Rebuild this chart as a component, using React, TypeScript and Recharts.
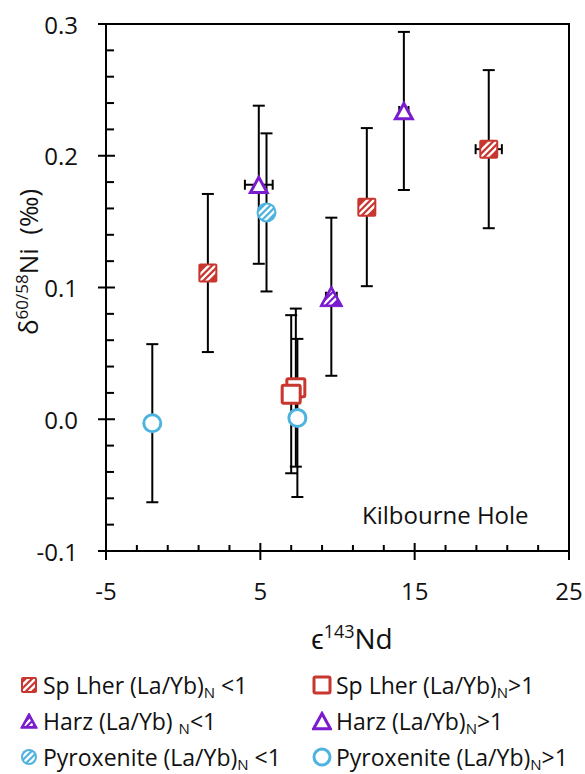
import React from 'react';
import { ScatterChart, Scatter, XAxis, YAxis, ErrorBar, ReferenceArea } from 'recharts';

const RED = '#C8372F';
const PURPLE = '#7A1BCF';
const BLUE = '#4FB3DF';
const FONT = '"Open Sans", sans-serif';
const TICK_COLOR = '#000';

// Sp Lher (La/Yb)N < 1
const spLherLowX = [1.6, 11.9, 19.8];
const spLherLowY = [0.111, 0.161, 0.205];
const spLherLowErrY = [0.06, 0.06, 0.06];
const spLherLowErrX = [0, 0, 0.85];
// Sp Lher (La/Yb)N > 1
const spLherHighX = [7.3, 7.0];
const spLherHighY = [0.024, 0.019];
const spLherHighErrY = [0.06, 0.06];
const spLherHighErrX = [0, 0.6];
// Harz (La/Yb)N < 1
const harzLowX = [9.6];
const harzLowY = [0.093];
const harzLowErrY = [0.06];
const harzLowErrX = [0.35];
// Harz (La/Yb)N > 1
const harzHighX = [4.9, 14.3];
const harzHighY = [0.178, 0.234];
const harzHighErrY = [0.06, 0.06];
const harzHighErrX = [0.9, 0.3];
// Pyroxenite (La/Yb)N < 1
const pyxLowX = [5.4];
const pyxLowY = [0.157];
const pyxLowErrY = [0.06];
const pyxLowErrX = [0];
// Pyroxenite (La/Yb)N > 1
const pyxHighX = [-2.0, 7.4];
const pyxHighY = [-0.003, 0.001];
const pyxHighErrY = [0.06, 0.06];
const pyxHighErrX = [0, 0];

const xTicks = [-5, -3, -1, 1, 3, 5, 7, 9, 11, 13, 15, 17, 19, 21, 23, 25];
const xMajorTicks = [-5, 5, 15, 25];
const yTicks = [-0.1, -0.08, -0.06, -0.04, -0.02, 0, 0.02, 0.04, 0.06, 0.08, 0.1, 0.12, 0.14, 0.16, 0.18, 0.2, 0.22, 0.24, 0.26, 0.28, 0.3];

const rows = (xs: number[], ys: number[], ey: number[], ex: number[]) =>
  xs.map((x, i) => ({ x, y: ys[i], ey: ey[i], ex: ex[i] }));

const spLherLow = rows(spLherLowX, spLherLowY, spLherLowErrY, spLherLowErrX);
const spLherHigh = rows(spLherHighX, spLherHighY, spLherHighErrY, spLherHighErrX);
const harzLow = rows(harzLowX, harzLowY, harzLowErrY, harzLowErrX);
const harzHigh = rows(harzHighX, harzHighY, harzHighErrY, harzHighErrX);
const pyxLow = rows(pyxLowX, pyxLowY, pyxLowErrY, pyxLowErrX);
const pyxHigh = rows(pyxHighX, pyxHighY, pyxHighErrY, pyxHighErrX);

let uid = 0;
const nextId = () => `clip${uid++}`;

function Stripes({ cx, cy, h, clipId }: any) {
  return (
    <g clipPath={`url(#${clipId})`} stroke="#fff" strokeWidth={2.4}>
      {[-6.5, 0, 6.5].map((d) => (
        <line key={d} x1={cx + d - h - 2} y1={cy + h + 2} x2={cx + d + h + 2} y2={cy - h - 2} />
      ))}
    </g>
  );
}

function HatchSquare({ cx, cy, color, s = 19 }: any) {
  const h = s / 2;
  const id = nextId();
  return (
    <g>
      <defs>
        <clipPath id={id}>
          <rect x={cx - h + 2} y={cy - h + 2} width={s - 4} height={s - 4} />
        </clipPath>
      </defs>
      <rect x={cx - h} y={cy - h} width={s} height={s} rx={2} fill={color} />
      <Stripes cx={cx} cy={cy} h={h} clipId={id} />
    </g>
  );
}

function OpenSquare({ cx, cy, color, s = 18 }: any) {
  const h = s / 2;
  return <rect x={cx - h} y={cy - h} width={s} height={s} rx={1.5} fill="#fff" stroke={color} strokeWidth={3} />;
}

function triPts(cx: number, cy: number, h: number) {
  return `${cx},${cy - h} ${cx - h * 1.05},${cy + h * 0.9} ${cx + h * 1.05},${cy + h * 0.9}`;
}

function HatchTriangle({ cx, cy, color, s = 22 }: any) {
  const h = s / 2;
  const id = nextId();
  return (
    <g>
      <defs>
        <clipPath id={id}>
          <polygon points={triPts(cx, cy + 1, h - 3.5)} />
        </clipPath>
      </defs>
      <polygon points={triPts(cx, cy, h)} fill={color} stroke={color} strokeWidth={1} strokeLinejoin="round" />
      <Stripes cx={cx} cy={cy} h={h} clipId={id} />
    </g>
  );
}

function OpenTriangle({ cx, cy, color, s = 16 }: any) {
  const h = s / 2;
  return <polygon points={triPts(cx, cy + 0.5, h)} fill="#fff" stroke={color} strokeWidth={3} />;
}

function HatchCircle({ cx, cy, color, s = 20 }: any) {
  const r = s / 2;
  const id = nextId();
  return (
    <g>
      <defs>
        <clipPath id={id}>
          <circle cx={cx} cy={cy} r={r - 2} />
        </clipPath>
      </defs>
      <circle cx={cx} cy={cy} r={r} fill={color} />
      <Stripes cx={cx} cy={cy} h={r} clipId={id} />
    </g>
  );
}

function OpenCircle({ cx, cy, color, s = 17 }: any) {
  return <circle cx={cx} cy={cy} r={s / 2} fill="#fff" stroke={color} strokeWidth={3} />;
}

const NoShape = () => <g />;

function XTick(props: any) {
  const { x, y, payload } = props;
  const v = payload.value;
  const major = xMajorTicks.some((m) => Math.abs(m - v) < 1e-6);
  return (
    <g>
      <path d={`M${x},${major ? y - 8 : y - 6}L${x},${major ? y + 9 : y}`} stroke={TICK_COLOR} strokeWidth={2} fill="none" />
      {major && (
        <text x={x} y={y + 39} textAnchor="middle" dominantBaseline="central" fontSize={24} fontFamily={FONT} fill="#111">
          {v}
        </text>
      )}
    </g>
  );
}

function YTick(props: any) {
  const { x, y, payload } = props;
  const v = payload.value;
  const major = Math.abs(v * 10 - Math.round(v * 10)) < 1e-6;
  return (
    <g>
      <path d={`M${major ? x - 8 : x},${y}L${major ? x + 9 : x + 8},${y}`} stroke={TICK_COLOR} strokeWidth={2} fill="none" />
      {major && (
        <text x={x - 28} y={y} textAnchor="end" dominantBaseline="central" fontSize={24} fontFamily={FONT} fill="#111">
          {(Math.round(v * 10) / 10).toFixed(1)}
        </text>
      )}
    </g>
  );
}

const errProps = { stroke: '#000', strokeWidth: 2 };

const groups = [
  { data: spLherLow, xErr: true },
  { data: spLherHigh, xErr: true },
  { data: harzLow, xErr: true },
  { data: harzHigh, xErr: true },
  { data: pyxLow, xErr: false },
  { data: pyxHigh, xErr: false },
];

const legendItems = [
  { col: 0, row: 0, Icon: HatchSquare, color: RED, name: 'Sp Lher (La/Yb)', tail: ' <1' },
  { col: 1, row: 0, Icon: OpenSquare, color: RED, name: 'Sp Lher (La/Yb)', tail: '>1' },
  { col: 0, row: 1, Icon: HatchTriangle, color: PURPLE, name: 'Harz (La/Yb) ', tail: '<1' },
  { col: 1, row: 1, Icon: OpenTriangle, color: PURPLE, name: 'Harz (La/Yb)', tail: '>1' },
  { col: 0, row: 2, Icon: HatchCircle, color: BLUE, name: 'Pyroxenite (La/Yb)', tail: ' <1' },
  { col: 1, row: 2, Icon: OpenCircle, color: BLUE, name: 'Pyroxenite (La/Yb)', tail: '>1' },
];

export default function App() {
  uid = 0;
  return (
    <div style={{ position: 'absolute', left: 0, top: 0, width: 585, height: 774, background: '#fff', fontFamily: FONT, overflow: 'hidden' }}>
      <ScatterChart width={585} height={774} margin={{ top: 24, right: 16, bottom: 0, left: 0 }}>
        <XAxis
          type="number"
          dataKey="x"
          domain={[-5, 25]}
          ticks={xTicks}
          interval={0}
          allowDataOverflow
          tick={XTick}
          tickLine={false}
          tickSize={0}
          tickMargin={0}
          height={223}
          axisLine={{ stroke: '#000', strokeWidth: 2 }}
        />
        <YAxis
          type="number"
          dataKey="y"
          domain={[-0.1, 0.3]}
          ticks={yTicks}
          interval={0}
          allowDataOverflow
          tick={YTick}
          tickLine={false}
          tickSize={0}
          tickMargin={0}
          width={106}
          axisLine={{ stroke: '#000', strokeWidth: 2 }}
        />
        <ReferenceArea x1={-5} x2={25} y1={-0.1} y2={0.3} fill="none" stroke="#000" strokeWidth={2} ifOverflow="visible" />
        {groups.map((g, i) => (
          <Scatter key={`err${i}`} data={g.data} shape={NoShape} isAnimationActive={false}>
            <ErrorBar dataKey="ey" direction="y" width={6} {...errProps} />
            {g.xErr && <ErrorBar dataKey="ex" direction="x" width={5} {...errProps} />}
          </Scatter>
        ))}
        <Scatter data={pyxHigh} isAnimationActive={false} shape={(p: any) => <OpenCircle cx={p.cx} cy={p.cy} color={BLUE} />} />
        <Scatter data={pyxLow} isAnimationActive={false} shape={(p: any) => <HatchCircle cx={p.cx} cy={p.cy} color={BLUE} />} />
        <Scatter data={harzHigh} isAnimationActive={false} shape={(p: any) => <OpenTriangle cx={p.cx} cy={p.cy} color={PURPLE} />} />
        <Scatter data={harzLow} isAnimationActive={false} shape={(p: any) => <HatchTriangle cx={p.cx} cy={p.cy} color={PURPLE} />} />
        <Scatter data={spLherHigh} isAnimationActive={false} shape={(p: any) => <OpenSquare cx={p.cx} cy={p.cy} color={RED} />} />
        <Scatter data={spLherLow} isAnimationActive={false} shape={(p: any) => <HatchSquare cx={p.cx} cy={p.cy} color={RED} />} />
      </ScatterChart>

      <div
        style={{
          position: 'absolute', left: 28, top: 262, transform: 'translate(-50%, -50%) rotate(-90deg)',
          whiteSpace: 'nowrap', fontSize: 26, color: '#111', lineHeight: 1,
        }}
      >
        δ<span style={{ fontSize: 17, position: 'relative', top: -10 }}>60/58</span>Ni&nbsp; (‰)
      </div>
      <div
        style={{
          position: 'absolute', left: 352, top: 638, transform: 'translate(-50%, -50%)',
          whiteSpace: 'nowrap', fontSize: 28, color: '#111', lineHeight: 1,
        }}
      >
        ϵ<span style={{ fontSize: 18, position: 'relative', top: -11 }}>143</span>Nd
      </div>
      <div
        style={{
          position: 'absolute', left: 362, top: 515, transform: 'translateY(-50%)',
          whiteSpace: 'nowrap', fontSize: 24, color: '#111', lineHeight: 1,
        }}
      >
        Kilbourne Hole
      </div>

      {legendItems.map((it, i) => {
        const left = it.col === 0 ? 19 : 312;
        const top = 685 + it.row * 36;
        const Icon = it.Icon;
        return (
          <div
            key={i}
            style={{
              position: 'absolute', left, top, height: 24, marginTop: -12,
              display: 'flex', alignItems: 'center', whiteSpace: 'nowrap', fontSize: 23, color: '#111', lineHeight: '24px',
            }}
          >
            <svg width={20} height={20} style={{ marginRight: 4 }}>
              <Icon cx={10} cy={10} color={it.color} s={16} />
            </svg>
            <span>
              {it.name}
              <span style={{ fontSize: 15, lineHeight: 1, position: 'relative', top: 4 }}>N</span>
              {it.tail}
            </span>
          </div>
        );
      })}
    </div>
  );
}
